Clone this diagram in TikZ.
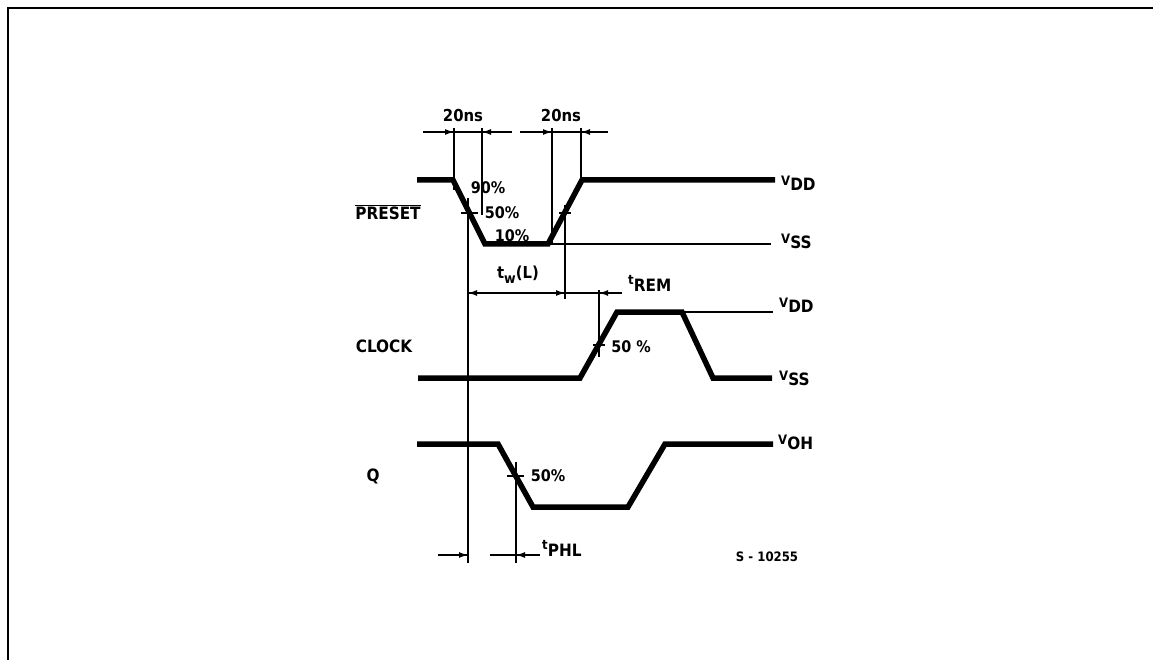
\documentclass[tikz,border=0pt]{standalone}
\usepackage{fontspec}
\setmainfont{DejaVu Sans Condensed}
\usetikzlibrary{arrows.meta}
\newcommand{\vlab}[2]{{\fontsize{13}{13}\selectfont #1}\raisebox{-5pt}{#2}}
\newcommand{\tlab}[2]{{\fontsize{13}{13}\selectfont #1}\raisebox{-7pt}{#2}}
\begin{document}
\begin{tikzpicture}[x=1pt,y=-1pt,
  wave/.style={line width=5.5pt,line join=miter},
  thin/.style={line width=1.5pt},
  frame/.style={line width=2pt},
  dimarr/.style={line width=1.5pt,-{Latex[length=9pt,width=6pt]}},
  lbl/.style={font=\bfseries\fontsize{17}{17}\selectfont,inner sep=0pt},
  ns/.style={font=\bfseries\fontsize{16.5}{16.5}\selectfont,inner sep=0pt},
  pct/.style={font=\bfseries\fontsize{16}{16}\selectfont,inner sep=0pt}]
\useasboundingbox (0,0) rectangle (1153,660);
% frame
\draw[frame] (1153,8) -- (8,8) -- (8,660);
% PRESET waveform
\coordinate (p0) at (417,180); \coordinate (p1) at (453,180);
\coordinate (p2) at (485,244); \coordinate (p3) at (548,244);
\coordinate (p4) at (582,180); \coordinate (p5) at (775,180);
\draw[wave] (p0) -- (p1) -- (p2) -- (p3) -- (p4) -- (p5);
\draw[thin] (p3) -- (771,244);
% CLOCK waveform
\coordinate (c0) at (418,378); \coordinate (c1) at (580,378);
\coordinate (c2) at (617,312); \coordinate (c3) at (682,312);
\coordinate (c4) at (713,378); \coordinate (c5) at (772,378);
\draw[wave] (c0) -- (c1) -- (c2) -- (c3) -- (c4) -- (c5);
\draw[thin] (c3) -- (773,312);
% Q waveform
\coordinate (q0) at (417,444); \coordinate (q1) at (498,444);
\coordinate (q2) at (533,507); \coordinate (q3) at (628,507);
\coordinate (q4) at (665,444); \coordinate (q5) at (773,444);
\draw[wave] (q0) -- (q1) -- (q2) -- (q3) -- (q4) -- (q5);
% vertical reference lines
\draw[thin] (454,128) -- (454,190);
\draw[thin] (482,128) -- (482,215);
\draw[thin] (552,128) -- (552,245);
\draw[thin] (581,128) -- (581,183);
\draw[thin] (565,205) -- (565,299);
\draw[thin] (468,198) -- (468,563);
\draw[thin] (599,290) -- (599,357);
\draw[thin] (516,462) -- (516,563);
% ticks at 50 % points
\draw[thin] (461,213) -- (478,213);
\draw[thin] (559,213) -- (571,213);
\draw[thin] (593,345) -- (605,345);
\draw[thin] (507,476) -- (524,476);
% 20 ns dimensions
\draw[thin] (423,132) -- (512,132);
\draw[dimarr] (436,132) -- (454,132);
\draw[dimarr] (500,132) -- (482,132);
\draw[thin] (520,132) -- (608,132);
\draw[dimarr] (534,132) -- (552,132);
\draw[dimarr] (599,132) -- (581,132);
% tw(L) and tREM
\draw[thin] (468,293) -- (622,293);
\draw[dimarr] (486,293) -- (468,293);
\draw[dimarr] (547,293) -- (565,293);
\draw[dimarr] (616,293) -- (599,293);
% tPHL
\draw[thin] (438,555) -- (468,555);
\draw[dimarr] (450,555) -- (468,555);
\draw[thin] (490,555) -- (540,555);
\draw[dimarr] (534,555) -- (516,555);
% labels
\node[ns] (ns1) at (463,115) {20ns};
\node[ns] (ns2) at (561,115) {20ns};
\node[pct] (p90) at (488,188) {90\%};
\node[pct] (p50) at (502,213) {50\%};
\node[pct] (p10) at (512,236) {10\%};
\node[lbl] (preset) at (388,212) {$\overline{\mbox{PRESET}}$};
\node[lbl] (clock) at (384,346) {CLOCK};
\node[lbl] (q) at (373,476) {Q};
\node[pct] (c50) at (631,347) {50 \%};
\node[pct] (q50) at (548,476) {50\%};
\node[lbl,anchor=west] (vdd1) at (781,183) {\vlab{V}{DD}};
\node[lbl,anchor=west] (vss1) at (781,241) {\vlab{V}{SS}};
\node[lbl,anchor=west] (vdd2) at (779,305) {\vlab{V}{DD}};
\node[lbl,anchor=west] (vss2) at (779,378) {\vlab{V}{SS}};
\node[lbl,anchor=west] (voh) at (778,442) {\vlab{V}{OH}};
\node[ns] (tw) at (518,275) {t\raisebox{-5pt}{\fontsize{14}{14}\selectfont w}(L)};
\node[lbl,anchor=west] (trem) at (628,283) {\tlab{t}{REM}};
\node[lbl,anchor=west] (tphl) at (542,548) {\tlab{t}{PHL}};
\node[font=\bfseries\fontsize{13}{13}\selectfont,inner sep=0pt] (ref) at (767,557) {S - 10255};
\end{tikzpicture}
\end{document}
